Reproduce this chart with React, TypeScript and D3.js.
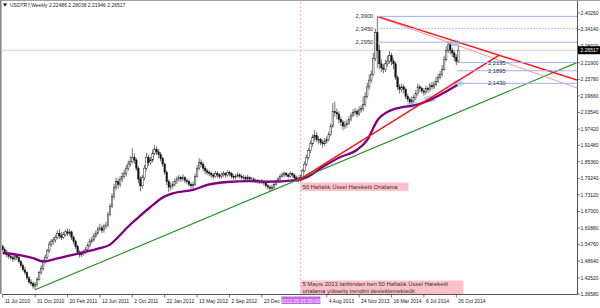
import React from 'react';
import * as d3 from 'd3';

// ---------- DATA ----------
const symbolHeader = 'USDTRY,Weekly  2.22486 2.28038 2.21946 2.26517';
const lastPrice = 2.26517;

// x-axis labels (week index from 11 Jul 2010)
const timeLabelIdx = [0, 16, 32, 48, 64, 80, 96, 112, 128, 160, 176, 192, 208, 224];
const timeLabels = ['11 Jul 2010', '31 Oct 2010', '20 Feb 2011', '12 Jun 2011', '2 Oct 2011', '22 Jan 2012', '13 May 2012', '2 Sep 2012', '23 Dec 2012', '4 Aug 2013', '24 Nov 2013', '16 Mar 2014', '6 Jul 2014', '26 Oct 2014'];

// price axis labels
const priceTicks = [2.4026, 2.3414, 2.2802, 2.219, 2.1578, 2.0966, 2.0354, 1.9742, 1.9148, 1.8536, 1.7924, 1.7312, 1.67, 1.6088, 1.5476, 1.4864, 1.4252, 1.3658];

// weekly candles
const opens = [
  1.540, 1.530, 1.520, 1.510, 1.505, 1.500, 1.495, 1.505, 1.500, 1.485, 1.470, 1.455, 1.445, 1.425, 1.410, 1.405, 1.395, 1.400, 1.420, 1.445, 1.460, 1.485, 1.500, 1.525, 1.550,
  1.560, 1.565, 1.575, 1.590, 1.580, 1.575, 1.585, 1.595, 1.590, 1.595, 1.575, 1.560, 1.540, 1.520, 1.510, 1.515, 1.520, 1.530, 1.545, 1.560, 1.565, 1.580, 1.590, 1.605, 1.610, 1.600, 1.615, 1.620, 1.660, 1.690, 1.725, 1.760, 1.780, 1.770, 1.790, 1.800, 1.810, 1.830, 1.845, 1.855, 1.870, 1.860, 1.830, 1.790, 1.765, 1.795, 1.830, 1.870, 1.850, 1.860, 1.885, 1.900,
  1.890, 1.880, 1.865, 1.845, 1.815, 1.780, 1.760, 1.765, 1.770, 1.780, 1.790, 1.795, 1.790, 1.795, 1.785, 1.780, 1.770, 1.765, 1.770, 1.800, 1.830, 1.850, 1.845, 1.830, 1.820, 1.815, 1.810, 1.805, 1.800, 1.810, 1.805, 1.800, 1.805, 1.810, 1.805, 1.815, 1.810, 1.800, 1.795, 1.800, 1.805, 1.800, 1.795, 1.795, 1.790, 1.795, 1.790, 1.790, 1.785, 1.785, 1.780, 1.780,
  1.780, 1.775, 1.765, 1.760, 1.755, 1.760, 1.770, 1.780, 1.790, 1.800, 1.805, 1.810, 1.805, 1.800, 1.810, 1.805, 1.795, 1.790, 1.785, 1.795, 1.820, 1.845, 1.870, 1.895, 1.920, 1.945, 1.950, 1.935, 1.935, 1.925, 1.920, 1.930, 1.935, 1.955, 1.985, 2.040, 2.035, 2.030, 2.010, 2.000, 1.985, 1.990, 1.995, 2.010, 2.025, 2.035, 2.040, 2.030, 2.045, 2.050, 2.065, 2.095,
  2.130, 2.155, 2.175, 2.235, 2.330, 2.265, 2.215, 2.200, 2.195, 2.215, 2.225, 2.245, 2.225, 2.215, 2.165, 2.130, 2.120, 2.130, 2.120, 2.095, 2.085, 2.075, 2.080, 2.090, 2.105, 2.130, 2.125, 2.115, 2.110, 2.125, 2.120, 2.135, 2.130, 2.140, 2.150, 2.165, 2.175, 2.195, 2.230, 2.265, 2.285, 2.265, 2.255, 2.240, 2.22486,
];
const highs = [
  1.548, 1.538, 1.528, 1.520, 1.515, 1.508, 1.515, 1.512, 1.505, 1.492, 1.478, 1.465, 1.450, 1.432, 1.420, 1.412, 1.410, 1.428, 1.452, 1.472, 1.495, 1.512, 1.532, 1.560, 1.568,
  1.575, 1.585, 1.600, 1.605, 1.595, 1.595, 1.603, 1.608, 1.605, 1.600, 1.582, 1.566, 1.548, 1.528, 1.525, 1.530, 1.540, 1.555, 1.570, 1.578, 1.590, 1.600, 1.615, 1.625, 1.620, 1.625, 1.632, 1.668, 1.700, 1.738, 1.772, 1.795, 1.792, 1.800, 1.815, 1.825, 1.842, 1.858, 1.875, 1.904, 1.885, 1.868, 1.838, 1.800, 1.805, 1.842, 1.886, 1.880, 1.872, 1.898, 1.916, 1.910,
  1.900, 1.890, 1.872, 1.850, 1.822, 1.788, 1.778, 1.782, 1.792, 1.800, 1.805, 1.802, 1.808, 1.800, 1.792, 1.788, 1.778, 1.780, 1.810, 1.842, 1.867, 1.862, 1.852, 1.838, 1.828, 1.822, 1.818, 1.812, 1.820, 1.818, 1.812, 1.815, 1.820, 1.815, 1.822, 1.820, 1.815, 1.808, 1.810, 1.815, 1.812, 1.808, 1.805, 1.802, 1.805, 1.800, 1.798, 1.796, 1.792, 1.790, 1.788, 1.790,
  1.786, 1.780, 1.772, 1.768, 1.770, 1.778, 1.788, 1.798, 1.808, 1.815, 1.818, 1.816, 1.812, 1.818, 1.815, 1.810, 1.800, 1.796, 1.805, 1.828, 1.855, 1.880, 1.905, 1.932, 1.955, 1.970, 1.962, 1.948, 1.942, 1.935, 1.942, 1.948, 1.965, 1.995, 2.070, 2.075, 2.050, 2.040, 2.020, 2.008, 2.005, 2.010, 2.022, 2.035, 2.048, 2.052, 2.048, 2.058, 2.062, 2.095, 2.110, 2.145,
  2.175, 2.190, 2.255, 2.345, 2.390, 2.285, 2.232, 2.215, 2.230, 2.245, 2.262, 2.255, 2.235, 2.222, 2.172, 2.140, 2.142, 2.138, 2.128, 2.105, 2.092, 2.095, 2.102, 2.118, 2.142, 2.138, 2.132, 2.125, 2.135, 2.132, 2.145, 2.148, 2.152, 2.168, 2.180, 2.190, 2.210, 2.245, 2.280, 2.298, 2.295, 2.275, 2.265, 2.250, 2.28038,
];
const lows = [
  1.522, 1.512, 1.500, 1.495, 1.490, 1.485, 1.488, 1.490, 1.478, 1.462, 1.448, 1.436, 1.418, 1.402, 1.395, 1.385, 1.382, 1.392, 1.415, 1.438, 1.452, 1.478, 1.495, 1.518, 1.540,
  1.548, 1.555, 1.568, 1.570, 1.565, 1.568, 1.578, 1.580, 1.582, 1.565, 1.550, 1.532, 1.510, 1.500, 1.502, 1.508, 1.512, 1.522, 1.538, 1.552, 1.558, 1.572, 1.582, 1.598, 1.590, 1.592, 1.605, 1.612, 1.652, 1.682, 1.715, 1.748, 1.755, 1.760, 1.780, 1.792, 1.800, 1.820, 1.835, 1.848, 1.845, 1.820, 1.775, 1.745, 1.755, 1.785, 1.822, 1.838, 1.842, 1.852, 1.878, 1.878,
  1.868, 1.855, 1.835, 1.805, 1.768, 1.742, 1.748, 1.755, 1.762, 1.772, 1.780, 1.778, 1.782, 1.775, 1.770, 1.762, 1.755, 1.752, 1.765, 1.795, 1.822, 1.832, 1.820, 1.808, 1.805, 1.800, 1.795, 1.790, 1.795, 1.795, 1.790, 1.792, 1.798, 1.795, 1.798, 1.800, 1.792, 1.788, 1.788, 1.795, 1.792, 1.788, 1.785, 1.782, 1.785, 1.782, 1.782, 1.778, 1.776, 1.772, 1.772, 1.772,
  1.765, 1.758, 1.752, 1.745, 1.748, 1.752, 1.765, 1.775, 1.785, 1.795, 1.798, 1.798, 1.792, 1.795, 1.796, 1.788, 1.780, 1.778, 1.780, 1.790, 1.815, 1.838, 1.862, 1.885, 1.910, 1.930, 1.925, 1.918, 1.915, 1.905, 1.912, 1.920, 1.928, 1.948, 1.980, 2.020, 2.010, 1.995, 1.985, 1.970, 1.975, 1.980, 1.990, 2.002, 2.018, 2.025, 2.018, 2.022, 2.035, 2.040, 2.058, 2.088,
  2.120, 2.145, 2.170, 2.225, 2.200, 2.195, 2.185, 2.180, 2.185, 2.205, 2.215, 2.210, 2.195, 2.155, 2.118, 2.105, 2.110, 2.105, 2.085, 2.075, 2.068, 2.068, 2.072, 2.082, 2.098, 2.110, 2.105, 2.098, 2.102, 2.108, 2.112, 2.120, 2.122, 2.132, 2.145, 2.158, 2.168, 2.190, 2.225, 2.255, 2.250, 2.240, 2.225, 2.210, 2.21946,
];
const closes = [
  1.530, 1.520, 1.510, 1.505, 1.500, 1.495, 1.505, 1.500, 1.485, 1.470, 1.455, 1.445, 1.425, 1.410, 1.405, 1.395, 1.400, 1.420, 1.445, 1.460, 1.485, 1.500, 1.525, 1.550, 1.560,
  1.565, 1.575, 1.590, 1.580, 1.575, 1.585, 1.595, 1.590, 1.595, 1.575, 1.560, 1.540, 1.520, 1.510, 1.515, 1.520, 1.530, 1.545, 1.560, 1.565, 1.580, 1.590, 1.605, 1.610, 1.600, 1.615, 1.620, 1.660, 1.690, 1.725, 1.760, 1.780, 1.770, 1.790, 1.800, 1.810, 1.830, 1.845, 1.855, 1.870, 1.860, 1.830, 1.790, 1.765, 1.795, 1.830, 1.870, 1.850, 1.860, 1.885, 1.900, 1.890,
  1.880, 1.865, 1.845, 1.815, 1.780, 1.760, 1.765, 1.770, 1.780, 1.790, 1.795, 1.790, 1.795, 1.785, 1.780, 1.770, 1.765, 1.770, 1.800, 1.830, 1.850, 1.845, 1.830, 1.820, 1.815, 1.810, 1.805, 1.800, 1.810, 1.805, 1.800, 1.805, 1.810, 1.805, 1.815, 1.810, 1.800, 1.795, 1.800, 1.805, 1.800, 1.795, 1.795, 1.790, 1.795, 1.790, 1.790, 1.785, 1.785, 1.780, 1.780, 1.780,
  1.775, 1.765, 1.760, 1.755, 1.760, 1.770, 1.780, 1.790, 1.800, 1.805, 1.810, 1.805, 1.800, 1.810, 1.805, 1.795, 1.790, 1.785, 1.795, 1.820, 1.845, 1.870, 1.895, 1.920, 1.945, 1.950, 1.935, 1.935, 1.925, 1.920, 1.930, 1.935, 1.955, 1.985, 2.040, 2.035, 2.030, 2.010, 2.000, 1.985, 1.990, 1.995, 2.010, 2.025, 2.035, 2.040, 2.030, 2.045, 2.050, 2.065, 2.095, 2.130,
  2.155, 2.175, 2.235, 2.330, 2.265, 2.215, 2.200, 2.195, 2.215, 2.225, 2.245, 2.225, 2.215, 2.165, 2.130, 2.120, 2.130, 2.120, 2.095, 2.085, 2.075, 2.080, 2.090, 2.105, 2.130, 2.125, 2.115, 2.110, 2.125, 2.120, 2.135, 2.130, 2.140, 2.150, 2.165, 2.175, 2.195, 2.230, 2.265, 2.285, 2.265, 2.255, 2.240, 2.225, 2.26517,
];

// 50-week EMA: [week index, value]
const ema50: [number, number][] = [
  [0, 1.517], [8.5, 1.509], [15, 1.498], [20, 1.486], [27, 1.497], [37, 1.515], [48, 1.535], [53, 1.548], [56.5, 1.572], [61.5, 1.611], [66.5, 1.645], [72.5, 1.684], [80, 1.726], [84, 1.737], [94, 1.750], [101, 1.768], [111, 1.779], [122, 1.782], [130.5, 1.780], [145, 1.786], [150.5, 1.798], [158, 1.834], [166.5, 1.870], [175, 1.898], [180, 1.934], [185, 2.006], [191.5, 2.043], [198, 2.056], [204.5, 2.064], [211, 2.082], [217.5, 2.107], [224.5, 2.137],
];

const rightEdgeIdx = 283.6;
// trend lines: [idx, price] pairs
const greenTrend: [number, number][] = [[16, 1.381], [rightEdgeIdx, 2.2197]];
const redFallThick: [number, number][] = [[185, 2.390], [rightEdgeIdx, 2.155]];
const redFallThin: [number, number][] = [[185, 2.388], [rightEdgeIdx, 2.126]];
const redRise: [number, number][] = [[145, 1.781], [245, 2.246]];

// horizontal levels
const topLevels = [2.39, 2.345, 2.295];
const topLevelLabels = ['2,3900', '2,3450', '2,2950'];
const topLevelDotted = [false, true, false];
const lowLevels = [2.2195, 2.1895, 2.143];
const lowLevelLabels = ['2,2195', '2,1895', '2,1430'];
const levelStartTop = 185;
const levelStartLow = 224.3;
const lowLabelIdx = 239.6;

// highlight ellipses: [idx, price]
const highlights: [number, number][] = [[146.8, 1.794], [202.3, 2.063], [211, 2.085], [224.8, 2.143], [223.5, 2.292]];

const markerIdx = 147; // 5 May 2013
const markerLabel = '2013.05.05 00:00';
const note1 = '50 Haftalık Üssel Hareketli Ortalama';
const note2a = '5 Mayıs 2013 tarihinden beri 50 Haftalık Üssel Hareketli';
const note2b = 'ortalama yükseliş trendini desteklemektedir.';

// ---------- CHART ----------
const W = 600;
const H = 308;
const plotL = 2;
const plotR = 577;
const plotT = 2;
const plotB = 294;
const FONT = '"Liberation Sans", Arial, sans-serif';

export default function App() {
  const x = d3.scaleLinear().domain([0, rightEdgeIdx]).range([2.7, plotR]);
  const y = d3.scaleLinear().domain([1.3657, 2.4432]).range([plotB, plotT]);
  const seg = d3.line<[number, number]>().x((d) => x(d[0])).y((d) => y(d[1]));
  const emaLine = d3.line<[number, number]>().x((d) => x(d[0])).y((d) => y(d[1])).curve(d3.curveMonotoneX);

  const axisColor = '#222';
  const levelColor = '#9fb0f5';
  const mx = x(markerIdx);

  return (
    <svg width={W} height={H} style={{ position: 'fixed', left: 0, top: 0, background: '#fff' }} fontFamily={FONT}>
      <defs>
        <clipPath id="plot">
          <rect x={plotL} y={plotT} width={plotR - plotL} height={plotB - plotT} />
        </clipPath>
        <clipPath id="beforeMarker">
          <rect x={0} y={plotB} width={mx - 19} height={H - plotB} />
        </clipPath>
      </defs>
      <rect x={0} y={0} width={W} height={H} fill="#fff" />
      {/* window border */}
      <rect x={0} y={0} width={W} height={1} fill="#a0a0a0" />
      <rect x={0} y={0} width={1.6} height={plotB} fill="#8a8a8a" />

      <g clipPath="url(#plot)">
        {/* bid line */}
        <line x1={plotL} x2={plotR} y1={y(lastPrice)} y2={y(lastPrice)} stroke="#c8c8c8" strokeWidth={0.8} />
        {/* marker vertical */}
        <line x1={mx} x2={mx} y1={plotT} y2={plotB} stroke="#ee88ee" strokeWidth={0.8} strokeDasharray="2,2" />

        {/* highlights */}
        {highlights.map((d, i) => (
          <ellipse key={'h' + i} cx={x(d[0])} cy={y(d[1])} rx={6} ry={3.5} fill="#a6d8ee" opacity={0.85} />
        ))}

        {/* candles */}
        {closes.map((c, i) => {
          const o = opens[i];
          const cx = x(i);
          const up = c >= o;
          const top = y(Math.max(o, c));
          const bot = y(Math.min(o, c));
          return (
            <g key={'c' + i}>
              <line x1={cx} x2={cx} y1={y(highs[i])} y2={y(lows[i])} stroke="#111" strokeWidth={0.6} />
              <rect x={cx - 0.75} y={top} width={1.5} height={Math.max(0.6, bot - top)} fill={up ? '#fff' : '#111'} stroke="#111" strokeWidth={0.45} />
            </g>
          );
        })}

        {/* EMA 50 */}
        <path d={emaLine(ema50) || ''} fill="none" stroke="#800080" strokeWidth={2.3} />

        {/* trend lines */}
        <path d={seg(greenTrend) || ''} stroke="#1c8f1c" strokeWidth={1.1} fill="none" />
        <path d={seg(redFallThin) || ''} stroke="#ff8c8c" strokeWidth={0.9} fill="none" />
        <path d={seg(redFallThick) || ''} stroke="#ff1010" strokeWidth={1.4} fill="none" />
        <path d={seg(redRise) || ''} stroke="#ff1010" strokeWidth={1.4} fill="none" />

        {/* horizontal levels */}
        {topLevels.map((p, i) => (
          <line key={'tl' + i} x1={x(levelStartTop)} x2={plotR} y1={y(p)} y2={y(p)} stroke={levelColor} strokeWidth={1} strokeDasharray={topLevelDotted[i] ? '1.5,1.5' : undefined} />
        ))}
        {lowLevels.map((p, i) => (
          <line key={'ll' + i} x1={x(levelStartLow)} x2={plotR} y1={y(p)} y2={y(p)} stroke={levelColor} strokeWidth={1} />
        ))}
      </g>

      {/* level labels */}
      {topLevels.map((p, i) => (
        <text key={'tlt' + i} x={x(levelStartTop) - 4} y={y(p)} dy="0.35em" textAnchor="end" fontSize={5.8} fill="#333">{topLevelLabels[i]}</text>
      ))}
      {lowLevels.map((p, i) => (
        <text key={'llt' + i} x={x(lowLabelIdx)} y={y(p)} dy="0.35em" fontSize={5.8} fill="#333">{lowLevelLabels[i]}</text>
      ))}

      {/* notes */}
      <rect x={mx} y={182.5} width={108} height={8.5} fill="#ffc0cb" />
      <text x={mx + 2} y={189.3} fontSize={5.9} fill="#333">{note1}</text>
      <rect x={mx} y={280.5} width={163} height={13.5} fill="#ffc0cb" />
      <text x={mx + 2} y={286.3} fontSize={5.9} fill="#333">{note2a}</text>
      <text x={mx + 2} y={292.6} fontSize={5.9} fill="#333">{note2b}</text>

      {/* axes */}
      <line x1={plotL} x2={plotR} y1={plotB + 0.5} y2={plotB + 0.5} stroke="#555" strokeWidth={1} />
      <line x1={plotR + 0.5} x2={plotR + 0.5} y1={plotT - 1} y2={plotB + 1} stroke="#555" strokeWidth={1} />

      {priceTicks.map((p, i) => (
        <g key={'pt' + i}>
          <line x1={plotR} x2={plotR + 3} y1={y(p)} y2={y(p)} stroke="#555" strokeWidth={0.8} />
          <text x={plotR + 3.5} y={y(p)} dy="0.35em" fontSize={5} fill={axisColor}>{p.toFixed(5)}</text>
        </g>
      ))}
      {/* last price box */}
      <rect x={plotR + 1} y={y(lastPrice) - 4} width={W - plotR - 1} height={8} fill="#000" />
      <text x={plotR + 3.5} y={y(lastPrice)} dy="0.35em" fontSize={5} fill="#fff">{lastPrice.toFixed(5)}</text>

      {timeLabelIdx.map((t, i) => (
        <g key={'tx' + i} clipPath={t === 128 ? 'url(#beforeMarker)' : undefined}>
          <line x1={x(t)} x2={x(t)} y1={plotB} y2={plotB + 3.5} stroke="#555" strokeWidth={0.8} />
          <text x={x(t) + 2} y={plotB + 8.5} fontSize={5} fill={axisColor}>{timeLabels[i]}</text>
        </g>
      ))}
      {/* marker time label */}
      <rect x={mx - 19} y={plotB + 2.5} width={39} height={7.5} fill="#c466e6" />
      <text x={mx} y={plotB + 8.5} textAnchor="middle" fontSize={5} fill="#fff">{markerLabel}</text>

      {/* header */}
      <path d="M3,3.5 L7,3.5 L5,6.5 Z" fill="#000" />
      <text x={10} y={7} fontSize={5} fill="#222">{symbolHeader}</text>
    </svg>
  );
}
